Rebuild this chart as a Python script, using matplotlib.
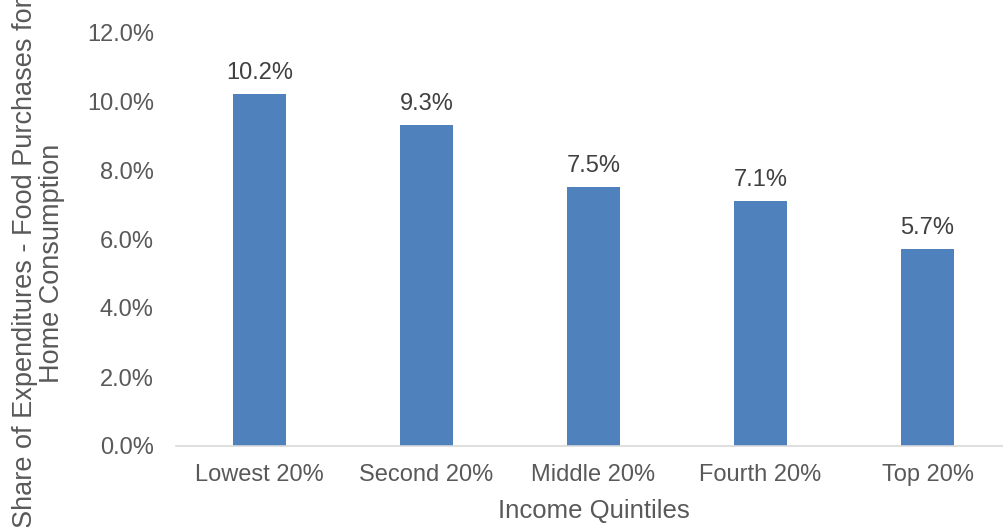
import matplotlib.pyplot as plt
from matplotlib.ticker import PercentFormatter

plt.rcParams['font.family'] = ['Liberation Sans', 'DejaVu Sans']

# veriler
quintiles = ['Lowest 20%', 'Second 20%', 'Middle 20%', 'Fourth 20%', 'Top 20%']
shares = [10.2, 9.3, 7.5, 7.1, 5.7]

grey = '#595959'
fig = plt.figure(figsize=(10.04, 5.27), dpi=100)
ax = fig.add_axes([176/1004, (527-446)/527, 835/1004, (446-32)/527])

x = range(len(quintiles))
ax.bar(x, shares, width=0.32, color='#4F81BD')
for xi, v in zip(x, shares):
    ax.text(xi, v + 0.3, f'{v:.1f}%', ha='center', va='bottom', fontsize=17, color='#404040')

ax.set_xlim(-0.5, 4.5)
ax.set_ylim(0, 12)
ax.set_yticks([0, 2, 4, 6, 8, 10, 12])
ax.yaxis.set_major_formatter(PercentFormatter(decimals=1))
ax.set_xticks(list(x))
ax.set_xticklabels(quintiles)
ax.tick_params(axis='both', length=0, labelsize=17, labelcolor=grey)
ax.tick_params(axis='x', pad=13)
ax.tick_params(axis='y', pad=16)

for s in ['top', 'right', 'left']:
    ax.spines[s].set_visible(False)
ax.spines['bottom'].set_color('#D9D9D9')
ax.spines['bottom'].set_linewidth(1.2)

ax.set_xlabel('Income Quintiles', fontsize=18.5, color=grey, va='center')
ax.xaxis.set_label_coords((594-176)/835, -(511-446)/414)
ax.set_ylabel('Share of Expenditures - Food Purchases for\nHome Consumption', fontsize=19.5, color=grey,
              linespacing=1.05, va='center')
ax.yaxis.set_label_coords(-(176-39)/835, (446-263)/414)

fig.savefig('out.png', dpi=100)
